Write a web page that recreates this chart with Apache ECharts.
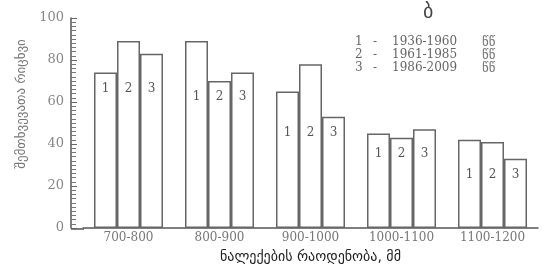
<!DOCTYPE html>
<html lang="ka">
<head>
    <meta charset="UTF-8">
    <title>ნალექები</title>
    <style>
        html, body { margin: 0; padding: 0; background: #fff; }
        #main { width: 560px; height: 269px; }
    </style>
    <script src="https://cdn.jsdelivr.net/npm/echarts@6/dist/echarts.min.js"></script>
</head>
<body>
    <div id="main"></div>
    <script>
        // data
        let categories = ['700-800', '800-900', '900-1000', '1000-1100', '1100-1200'];
        let period1 = [74, 89, 65, 45, 42];
        let period2 = [89, 70, 78, 43, 41];
        let period3 = [83, 74, 53, 47, 33];
        let seriesNums = ['1', '2', '3'];
        let periods = ['1936-1960', '1961-1985', '1986-2009'];
        let yTicks = [0, 20, 40, 60, 80, 100];
        let yTitle = 'შემთხვევათა რიცხვი';

        let allSeries = [period1, period2, period3];
        let groupMin = categories.map((c, i) => Math.min(period1[i], period2[i], period3[i]));

        let chartDom = document.getElementById('main');
        let myChart = echarts.init(chartDom);
        let serif = 'DejaVu Serif';
        let geo = 'DejaVu Sans';

        function makeSeries(pxPerUnit) {
            return allSeries.map((vals, s) => ({
                name: seriesNums[s],
                type: 'bar',
                barWidth: 23,
                barGap: 0,
                data: vals.map((v, i) => ({
                    value: v,
                    label: {distance: 10 + (v - groupMin[i]) * pxPerUnit}
                })),
                itemStyle: {color: '#fff', borderColor: '#666', borderWidth: 1.5},
                label: {
                    show: true,
                    position: 'insideTop',
                    formatter: seriesNums[s],
                    fontFamily: serif,
                    fontSize: 12,
                    color: '#555'
                },
                silent: true
            }));
        }

        let legendTexts = [];
        periods.forEach((p, i) => {
            let y = 36 + i * 13;
            legendTexts.push({type: 'text', left: 355, top: y, style: {text: seriesNums[i], font: '12px ' + serif, fill: '#666'}});
            legendTexts.push({type: 'text', left: 373, top: y, style: {text: '-', font: '12px ' + serif, fill: '#666'}});
            legendTexts.push({type: 'text', left: 392, top: y, style: {text: p, font: '12px ' + serif, fill: '#666'}});
            legendTexts.push({type: 'text', left: 482, top: y, style: {text: 'წწ', font: '13px ' + geo, fill: '#777'}});
        });

        let option = {
            animation: false,
            grid: {left: 83, right: 22, top: 18, bottom: 40},
            graphic: [
                {type: 'text', left: 423, top: 3, style: {text: 'ბ', font: '20px ' + geo, fill: '#444'}},
                {type: 'line', shape: {x1: 71, y1: 229, x2: 84, y2: 229}, style: {stroke: '#555', lineWidth: 1.5}},
                {type: 'text', x: 22, y: 104, rotation: Math.PI / 2,
                    style: {text: yTitle, font: '13px ' + geo, fill: '#777', align: 'center', verticalAlign: 'middle'}}
            ].concat(legendTexts),
            xAxis: {
                type: 'category',
                data: categories,
                name: 'ნალექების რაოდენობა, მმ',
                nameLocation: 'middle',
                nameGap: 22,
                nameTextStyle: {fontFamily: geo, fontSize: 14, color: '#222'},
                axisLine: {lineStyle: {color: '#555', width: 1.5}},
                axisTick: {show: false},
                axisLabel: {fontFamily: serif, fontSize: 12, color: '#777', margin: 4}
            },
            yAxis: {
                type: 'value',
                min: yTicks[0],
                max: yTicks[yTicks.length - 1],
                interval: 20,
                offset: 12,
                axisLine: {show: true, lineStyle: {color: '#555', width: 1.5}},
                axisTick: {show: true, inside: true, length: 6, lineStyle: {color: '#666'}},
                minorTick: {show: true, splitNumber: 10, length: 5, lineStyle: {color: '#777'}},
                splitLine: {show: false},
                axisLabel: {fontFamily: serif, fontSize: 13, color: '#888', margin: 7}
            },
            series: makeSeries(2.11)
        };

        option && myChart.setOption(option);

        // place the 1/2/3 labels on a common level within each group, using the axis scale
        let p0 = myChart.convertToPixel({yAxisIndex: 0}, 0);
        let p100 = myChart.convertToPixel({yAxisIndex: 0}, 100);
        myChart.setOption({series: makeSeries((p0 - p100) / 100)});
    </script>
</body>
</html>
